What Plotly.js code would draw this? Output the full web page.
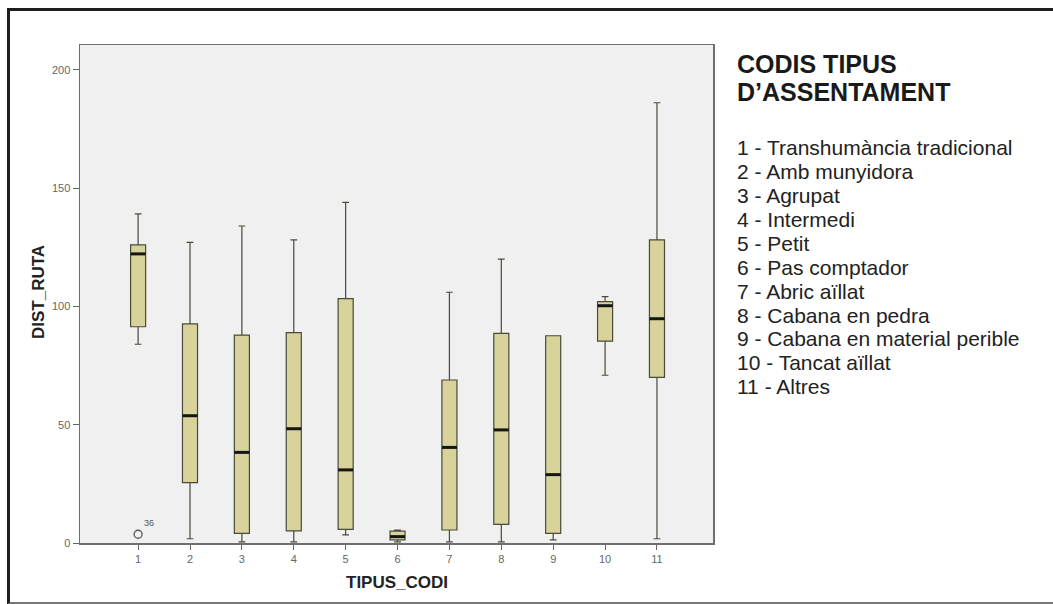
<!DOCTYPE html>
<html>
<head>
<meta charset="utf-8">
<script src="https://cdn.plot.ly/plotly-3.0.1.min.js"></script>
<style>
  html, body { margin: 0; padding: 0; background: #ffffff; }
  #wrap { position: relative; width: 1053px; height: 604px; overflow: hidden; }
  #chart { position: absolute; left: 0; top: 0; width: 1053px; height: 604px; }
  #frame { position: absolute; left: 7px; top: 8px; width: 1060px; height: 591px;
           border-left: 3px solid #1e1e1e; border-top: 3px solid #1e1e1e; border-bottom: 3px solid #777;
           pointer-events: none; }
</style>
</head>
<body>
<div id="wrap"><div id="chart"></div><div id="frame"></div></div>
<script>
// Categories (TIPUS_CODI)
const codes = [1, 2, 3, 4, 5, 6, 7, 8, 9, 10, 11];
// Box statistics (DIST_RUTA)
const lowerWhisker = [84.0, 1.8, 0.5, 0.5, 3.4, 0.5, 0.5, 0.5, 1.3, 70.9, 1.8];
const q1Values     = [91.4, 25.5, 4.1, 5.1, 5.8, 1.3, 5.5, 7.9, 4.1, 85.3, 70.0];
const medians      = [122.2, 53.8, 38.3, 48.3, 30.9, 2.7, 40.4, 47.8, 28.9, 100.3, 94.8];
const q3Values     = [126.0, 92.6, 87.9, 88.9, 103.3, 5.0, 68.9, 88.6, 87.6, 102.0, 128.1];
const upperWhisker = [139.1, 127.1, 134.0, 128.1, 144.0, 5.5, 106.0, 120.0, 87.6, 104.1, 186.1];
// Outliers
const outlierCodes = [1];
const outlierValues = [3.7];
const outlierLabels = ['36'];
// Legend text
const legendTitle = ['CODIS TIPUS', 'D\u2019ASSENTAMENT'];
const legendItems = [
  '1 - Transhumància tradicional',
  '2 - Amb munyidora',
  '3 - Agrupat',
  '4 - Intermedi',
  '5 - Petit',
  '6 - Pas comptador',
  '7 - Abric aïllat',
  '8 - Cabana en pedra',
  '9 - Cabana en material perible',
  '10 - Tancat aïllat',
  '11 - Altres'
];
const yTicks = [0, 50, 100, 150, 200];

const boxW = 0.29;
const FONT = 'Liberation Sans, Arial, sans-serif';

const boxTrace = {
  type: 'box',
  x: codes,
  lowerfence: lowerWhisker,
  q1: q1Values,
  median: medians,
  q3: q3Values,
  upperfence: upperWhisker,
  width: boxW,
  whiskerwidth: 0.45,
  fillcolor: '#d7d39b',
  line: { color: '#4a4a3a', width: 1.2 },
  boxpoints: false,
  hoverinfo: 'skip',
  showlegend: false
};

// Thick median bars (derived from the medians array)
const mx = [], my = [];
codes.forEach((c, i) => {
  mx.push(c - boxW / 2, c + boxW / 2, null);
  my.push(medians[i], medians[i], null);
});
const medianTrace = {
  type: 'scatter', mode: 'lines', x: mx, y: my,
  line: { color: '#151515', width: 3 },
  hoverinfo: 'skip', showlegend: false
};

const outlierTrace = {
  type: 'scatter', mode: 'markers+text',
  x: outlierCodes, y: outlierValues, text: outlierLabels,
  textposition: 'top right',
  textfont: { family: FONT, size: 9, color: '#555' },
  marker: { symbol: 'circle-open', size: 8, color: '#555', line: { width: 1.3 } },
  cliponaxis: false, hoverinfo: 'skip', showlegend: false
};

// plot area geometry in pixels: x 80..713, y 45..543
const L = 80, R = 340, T = 45, B = 61, H = 604;
const plotH = H - T - B;
function py(p) { return (543 - p) / plotH; }
function px(p) { return (p - L) / (1053 - L - R); }

const annotations = [];
legendTitle.forEach((t, i) => {
  annotations.push({
    xref: 'paper', yref: 'paper', x: px(735), y: py(64 + i * 28),
    xanchor: 'left', yanchor: 'middle', showarrow: false, text: '<b>' + t + '</b>',
    font: { family: FONT, size: 25, color: '#1a1a1a' }
  });
});
legendItems.forEach((t, i) => {
  annotations.push({
    xref: 'paper', yref: 'paper', x: px(735), y: py(147.7 + i * 23.9),
    xanchor: 'left', yanchor: 'middle', showarrow: false, text: t,
    font: { family: FONT, size: 21, color: '#222' }
  });
});
annotations.push({
  xref: 'paper', yref: 'paper', x: px(397), y: py(582),
  xanchor: 'center', yanchor: 'middle', showarrow: false, text: '<b>TIPUS_CODI</b>',
  font: { family: FONT, size: 17, color: '#222' }
});
annotations.push({
  xref: 'paper', yref: 'paper', x: px(38), y: py(292),
  xanchor: 'center', yanchor: 'middle', showarrow: false, text: '<b>DIST_RUTA</b>', textangle: -90,
  font: { family: FONT, size: 17, color: '#222' }
});

const layout = {
  width: 1053, height: 604,
  margin: { l: L, r: R, t: T, b: B, pad: 0 },
  paper_bgcolor: '#ffffff',
  plot_bgcolor: '#f0f0f0',
  showlegend: false,
  xaxis: {
    type: 'linear', range: [-0.12, 12.08],
    tickmode: 'array', tickvals: codes, ticktext: codes.map(String),
    ticks: 'outside', ticklen: 5, tickcolor: '#666', tickwidth: 1,
    tickfont: { family: FONT, size: 11, color: '#666666' },
    showgrid: false, zeroline: false,
    showline: true, linecolor: '#6e6e6e', linewidth: 1.5, mirror: true
  },
  yaxis: {
    range: [0, 210.5],
    tickmode: 'array', tickvals: yTicks,
    ticks: 'outside', ticklen: 6, tickcolor: '#666', tickwidth: 1,
    tickfont: { family: FONT, size: 11, color: '#666666' },
    showgrid: false, zeroline: false,
    showline: true, linecolor: '#6e6e6e', linewidth: 1.5, mirror: true
  },
  annotations: annotations
};

Plotly.newPlot('chart', [boxTrace, medianTrace, outlierTrace], layout, { displayModeBar: false, staticPlot: true });
</script>
</body>
</html>
